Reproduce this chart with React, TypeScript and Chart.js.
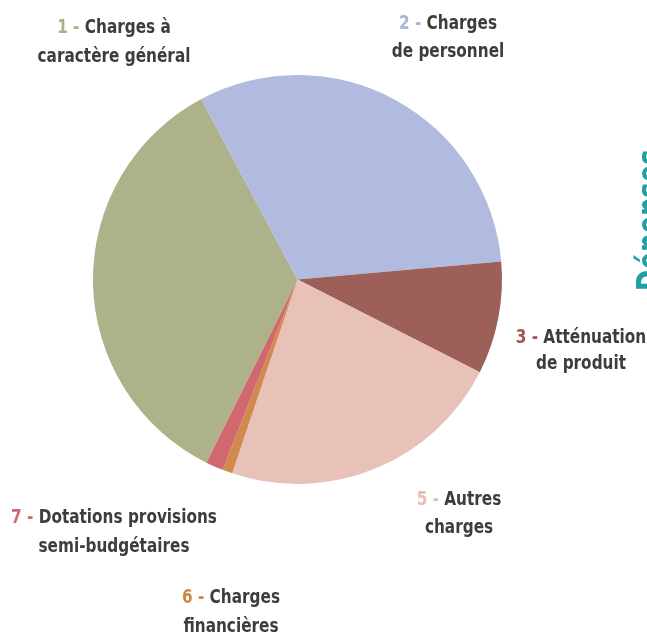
import React, { useEffect, useRef } from "react";
import { Chart, registerables } from "chart.js";

Chart.register(...registerables);

// ---- Data ----
const numbers = ["1", "2", "3", "5", "6", "7"];
const firstLines = ["Charges à", "Charges", "Atténuation", "Autres", "Charges", "Dotations provisions"];
const secondLines = ["caractère général", "de personnel", "de produit", "charges", "financières", "semi-budgétaires"];
const values = [34.86, 31.39, 8.89, 22.69, 0.79, 1.38];
const sideTitle = "Dépenses";

// ---- Styles ----
const sliceColors = ["#adb28b", "#b1bbe0", "#9c6058", "#e8c1b8", "#d28a4c", "#d0696d"];
const numberColors = ["#a9b08a", "#a9b3dc", "#9a5a52", "#e6bdb4", "#cf8645", "#cf6b6e"];
const textColor = "#3d3d3d";
const titleColor = "#1fa0a4";
const FONT = "'DejaVu Sans Condensed', 'Liberation Sans Narrow', sans-serif";
const FONT_SIZE = 20;
const X_SCALE = 0.85;

// label anchors: [centerX, baseline1, baseline2]
const labelLayout: [number, number, number][] = [
  [114, 33, 62],
  [448, 29, 57],
  [581, 343, 369],
  [459, 505, 533],
  [231, 603, 632],
  [114, 523, 552],
];

const labelPlugin = {
  id: "pieLabels",
  afterDraw(chart: any) {
    const ctx = chart.ctx as CanvasRenderingContext2D;
    ctx.save();
    ctx.font = `bold ${FONT_SIZE}px ${FONT}`;
    ctx.textBaseline = "alphabetic";
    ctx.textAlign = "left";
    numbers.forEach((n, i) => {
      const [cx, b1, b2] = labelLayout[i];
      const numPart = n + " - ";
      const rest = firstLines[i];
      ctx.save();
      ctx.translate(cx, 0);
      ctx.scale(X_SCALE, 1);
      const wNum = ctx.measureText(numPart).width;
      const wRest = ctx.measureText(rest).width;
      const x = -(wNum + wRest) / 2;
      ctx.fillStyle = numberColors[i];
      ctx.fillText(numPart, x, b1);
      ctx.fillStyle = textColor;
      ctx.fillText(rest, x + wNum, b1);
      const w2 = ctx.measureText(secondLines[i]).width;
      ctx.fillText(secondLines[i], -w2 / 2, b2);
      ctx.restore();
    });
    // side title (rotated, partially off canvas)
    ctx.font = `bold 35px ${FONT}`;
    ctx.fillStyle = titleColor;
    ctx.translate(662, 291);
    ctx.rotate(-Math.PI / 2);
    ctx.scale(0.82, 1);
    ctx.fillText(sideTitle, 0, 0);
    ctx.restore();
  },
};

export default function App() {
  const ref = useRef<HTMLCanvasElement | null>(null);
  useEffect(() => {
    if (!ref.current) return;
    const chart = new Chart(ref.current, {
      type: "pie",
      data: {
        labels: numbers.map((n, i) => `${n} - ${firstLines[i]} ${secondLines[i]}`),
        datasets: [
          {
            data: values,
            backgroundColor: sliceColors,
            borderWidth: 0,
          },
        ],
      },
      options: {
        responsive: false,
        animation: false,
        rotation: 206.43,
        layout: { padding: { left: 93, right: 145, top: 75, bottom: 149 } },
        plugins: {
          legend: { display: false },
          tooltip: { enabled: false },
        },
      },
      plugins: [labelPlugin],
    });
    return () => chart.destroy();
  }, []);
  return (
    <div style={{ position: "fixed", left: 0, top: 0, width: 647, height: 633, overflow: "hidden", background: "#fff" }}>
      <canvas ref={ref} width={647} height={633} style={{ display: "block" }} />
    </div>
  );
}
